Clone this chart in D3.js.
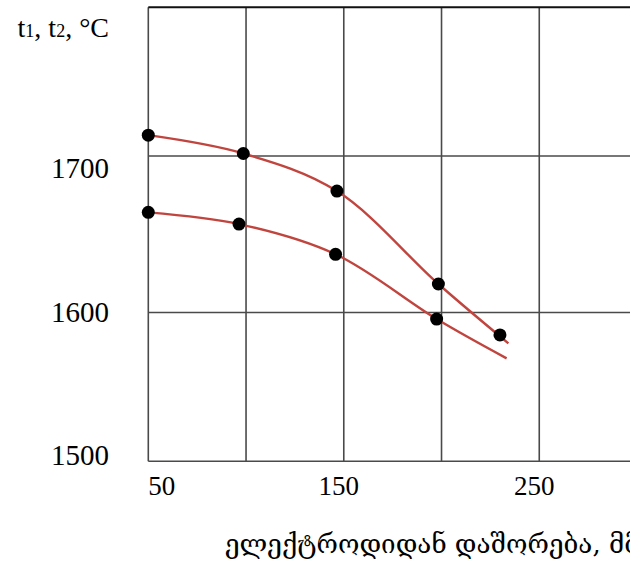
<!DOCTYPE html>
<html>
<head>
<meta charset="utf-8">
<script src="https://d3js.org/d3.v7.min.js"></script>
<style>
  body { margin: 0; background: #fff; }
  svg { display: block; }
</style>
</head>
<body>
<div id="vis"></div>
<script>
// grid positions (mm and degrees C)
const xGrid = [50, 100, 150, 200, 250, 300];
const yGrid = [1500, 1600, 1700, 1800];
const xTickLabels = [50, 150, 250];
const yTickLabels = [1500, 1600, 1700];

// measured points
const upperX = [50, 98.6, 146.5, 198.4, 229.9];
const upperY = [1714, 1701.7, 1677.6, 1618.2, 1584.9];
const lowerX = [50, 96.4, 145.8, 197.5];
const lowerY = [1664, 1656.5, 1637.2, 1595.6];

// smoothed curves drawn through the points
const upperFitX = [50, 98.6, 146.5, 198.4, 234.2];
const upperFitY = [1714, 1701.7, 1677.6, 1618.2, 1579.3];
const lowerFitX = [50, 96.4, 145.8, 197.5, 233.3];
const lowerFitY = [1664, 1656.5, 1637.2, 1595.6, 1569.2];

const yTitle = ["t", "1", ", t", "2", ", °C"];
const xTitle = "ელექტროდიდან დაშორება, მმ";

var width = 630, height = 583;

var svg = d3.select("#vis")
  .append("svg")
  .attr("width", width)
  .attr("height", height);

var x = d3.scaleLinear()
  .domain([50, 300])
  .range([148.3, 637]);

// the scanned grid is slightly uneven, so the scale has one segment per cell
var y = d3.scaleLinear()
  .domain([1500, 1600, 1700, 1800])
  .range([461.3, 312.5, 156, 7.3]);

// tick labels sit on their own evenly spaced positions
var yLab = d3.scaleLinear()
  .domain([1500, 1700])
  .range([455, 168]);

var serif = "'Liberation Serif', 'Times New Roman', serif";

var grid = svg.append("g");

grid.selectAll(".vline")
  .data(xGrid)
  .enter().append("line")
  .attr("class", "vline")
  .attr("x1", d => x(d)).attr("x2", d => x(d))
  .attr("y1", y(1800)).attr("y2", y(1500))
  .attr("stroke", "#4a4a4a")
  .attr("stroke-width", 1.6);

grid.selectAll(".hline")
  .data(yGrid)
  .enter().append("line")
  .attr("class", "hline")
  .attr("x1", x(50)).attr("x2", x(300))
  .attr("y1", d => y(d)).attr("y2", d => y(d))
  .attr("stroke", d => d == 1800 ? "#111" : "#4a4a4a")
  .attr("stroke-width", d => d == 1800 ? 2 : 1.6);

// y tick labels
svg.selectAll(".ylab")
  .data(yTickLabels)
  .enter().append("text")
  .attr("class", "ylab")
  .attr("x", 109)
  .attr("y", d => yLab(d))
  .attr("dy", "0.35em")
  .attr("text-anchor", "end")
  .style("font-family", serif)
  .style("font-size", "29px")
  .text(d => d);

// x tick labels
svg.selectAll(".xlab")
  .data(xTickLabels)
  .enter().append("text")
  .attr("class", "xlab")
  .attr("x", d => x(d))
  .attr("dx", (d, i) => i == 0 ? 0 : -5)
  .attr("y", y(1500) + 34)
  .attr("text-anchor", (d, i) => i == 0 ? "start" : "middle")
  .style("font-family", serif)
  .style("font-size", "27px")
  .text(d => d);

// axis titles
var yt = svg.append("text")
  .attr("x", 109)
  .attr("y", 37)
  .attr("text-anchor", "end")
  .style("font-family", serif)
  .style("font-size", "28px");
yt.selectAll("tspan")
  .data(yTitle)
  .enter().append("tspan")
  .style("font-size", (d, i) => i % 2 == 1 ? "18px" : "28px")
  .text(d => d);

svg.append("text")
  .attr("x", 225)
  .attr("y", 553)
  .style("font-family", "'DejaVu Serif', 'DejaVu Sans', serif")
  .style("font-size", "26px")
  .text(xTitle);

// curves
var line = d3.line()
  .x(d => x(d[0]))
  .y(d => y(d[1]))
  .curve(d3.curveCatmullRom.alpha(0.5));

[[upperFitX, upperFitY], [lowerFitX, lowerFitY]].forEach(function(s) {
  svg.append("path")
    .datum(d3.zip(s[0], s[1]))
    .attr("fill", "none")
    .attr("stroke", "#c0453f")
    .attr("stroke-width", 2.4)
    .attr("d", line);
});

// points
[[upperX, upperY], [lowerX, lowerY]].forEach(function(s) {
  svg.append("g")
    .selectAll("circle")
    .data(d3.zip(s[0], s[1]))
    .enter().append("circle")
    .attr("cx", d => x(d[0]))
    .attr("cy", d => y(d[1]))
    .attr("r", 6.5)
    .attr("fill", "#000");
});
</script>
</body>
</html>
